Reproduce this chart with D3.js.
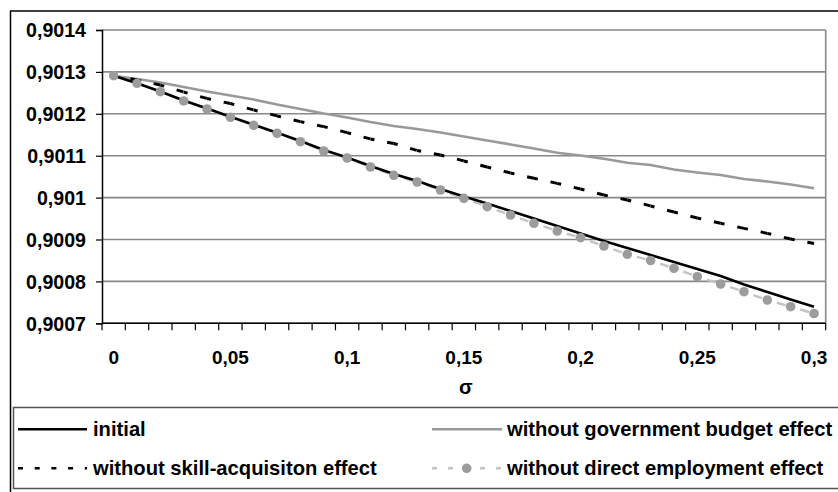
<!DOCTYPE html>
<html>
<head>
<meta charset="utf-8">
<script src="https://cdn.jsdelivr.net/npm/d3@7"></script>
<style>
  html, body { margin: 0; padding: 0; background: #fff; }
  svg { display: block; }
  text { font-family: "Liberation Sans", Arial, sans-serif; font-weight: bold; fill: #000; }
</style>
</head>
<body>
<svg id="chart" width="838" height="492"></svg>
<script>
// ---- data ----
const sigma = [0, 0.01, 0.02, 0.03, 0.04, 0.05, 0.06, 0.07, 0.08, 0.09, 0.10,
               0.11, 0.12, 0.13, 0.14, 0.15, 0.16, 0.17, 0.18, 0.19, 0.20,
               0.21, 0.22, 0.23, 0.24, 0.25, 0.26, 0.27, 0.28, 0.29, 0.30];
const initial = [0.9012909, 0.9012728, 0.9012532, 0.9012317, 0.9012127, 0.9011928, 0.9011738, 0.9011547,
                 0.9011351, 0.9011136, 0.9010957, 0.9010754, 0.9010563, 0.9010396, 0.9010205, 0.9010026,
                 0.9009859, 0.9009680, 0.9009501, 0.9009322, 0.9009143, 0.9008964, 0.9008797, 0.9008630,
                 0.9008463, 0.9008296, 0.9008129, 0.9007926, 0.9007747, 0.9007568, 0.9007396];
const govBudget = [0.9012909, 0.9012831, 0.9012747, 0.9012640, 0.9012532, 0.9012437, 0.9012341, 0.9012222,
                   0.9012115, 0.9012007, 0.9011912, 0.9011804, 0.9011709, 0.9011637, 0.9011554, 0.9011458,
                   0.9011363, 0.9011267, 0.9011172, 0.9011072, 0.9011005, 0.9010926, 0.9010831, 0.9010778,
                   0.9010671, 0.9010599, 0.9010539, 0.9010444, 0.9010384, 0.9010313, 0.9010222];
const skillAcq = [0.9012909, 0.9012807, 0.9012687, 0.9012520, 0.9012365, 0.9012246, 0.9012091, 0.9011948,
                  0.9011812, 0.9011692, 0.9011549, 0.9011399, 0.9011291, 0.9011124, 0.9011017, 0.9010874,
                  0.9010730, 0.9010587, 0.9010461, 0.9010341, 0.9010205, 0.9010062, 0.9009943, 0.9009800,
                  0.9009656, 0.9009513, 0.9009387, 0.9009267, 0.9009148, 0.9009012, 0.9008905];
const directEmp = [0.9012909, 0.9012728, 0.9012527, 0.9012306, 0.9012115, 0.9011917, 0.9011726, 0.9011535,
                   0.9011334, 0.9011112, 0.9010945, 0.9010730, 0.9010532, 0.9010372, 0.9010181, 0.9009983,
                   0.9009783, 0.9009585, 0.9009387, 0.9009203, 0.9009043, 0.9008845, 0.9008647, 0.9008499,
                   0.9008313, 0.9008112, 0.9007938, 0.9007754, 0.9007556, 0.9007396, 0.9007234];
const yTicks = [0.9007, 0.9008, 0.9009, 0.9010, 0.9011, 0.9012, 0.9013, 0.9014];
const xTickLabels = [0, 0.05, 0.10, 0.15, 0.20, 0.25, 0.30];
const seriesNames = ["initial", "without government budget effect",
                     "without skill-acquisiton effect", "without direct employment effect"];
const xTitle = "σ";

// ---- layout ----
const W = 838, H = 492;
const plot = { left: 102, right: 825.7, top: 30, bottom: 323.3 };
const FSY = 19.6, FSX = 19, FSL = 20.2;

const svg = d3.select("#chart");
const loc = d3.formatLocale({ decimal: ",", thousands: ".", grouping: [3], currency: ["", ""] });
const fy = loc.format(".4~f");
const fx = loc.format(".2~f");

// outer frame
svg.append("rect").attr("x", 10.5).attr("y", 11).attr("width", W + 10).attr("height", H + 10)
  .attr("fill", "none").attr("stroke", "#000").attr("stroke-width", 1.5);

const x = d3.scaleBand().domain(sigma).range([plot.left, plot.right]).padding(0);
const cx = d => x(d) + x.bandwidth() / 2;
const y = d3.scaleLinear().domain([0.9007, 0.9014]).range([plot.bottom, plot.top]);

// gridlines
svg.append("g").selectAll("line").data(yTicks).join("line")
  .attr("x1", plot.left).attr("x2", plot.right)
  .attr("y1", d => y(d)).attr("y2", d => y(d))
  .attr("stroke", "#888").attr("stroke-width", 1.6);
// right border of plot
svg.append("line").attr("x1", plot.right).attr("x2", plot.right)
  .attr("y1", plot.top).attr("y2", plot.bottom).attr("stroke", "#888").attr("stroke-width", 1.6);

// y axis
const yAxis = svg.append("g").attr("transform", `translate(${plot.left},0)`)
  .call(d3.axisLeft(y).tickValues(yTicks).tickFormat(fy).tickSize(6).tickPadding(10));
yAxis.select(".domain").attr("stroke", "#000").attr("stroke-width", 1.5);
yAxis.selectAll(".tick line").attr("stroke", "#000").attr("stroke-width", 1.2);
yAxis.selectAll(".tick text").attr("font-size", FSY).attr("font-family", "Liberation Sans")
  .attr("font-weight", "bold").attr("fill", "#000").attr("dy", "0.35em");

// x axis: ticks between categories
const xg = svg.append("g");
xg.append("line").attr("x1", plot.left).attr("x2", plot.right)
  .attr("y1", plot.bottom).attr("y2", plot.bottom).attr("stroke", "#000").attr("stroke-width", 1.5);
xg.selectAll("line.tk").data(sigma.concat([null])).join("line").attr("class", "tk")
  .attr("x1", d => d === null ? plot.right : x(d))
  .attr("x2", d => d === null ? plot.right : x(d))
  .attr("y1", plot.bottom).attr("y2", plot.bottom + 7)
  .attr("stroke", "#000").attr("stroke-width", 1.2);
xg.selectAll("text").data(xTickLabels).join("text")
  .attr("x", d => cx(sigma.find(s => Math.abs(s - d) < 1e-9)))
  .attr("y", 364).attr("text-anchor", "middle").attr("font-size", FSX)
  .text(d => fx(d));
svg.append("text").attr("x", (plot.left + plot.right) / 2 + 2).attr("y", 393.5)
  .attr("text-anchor", "middle").attr("font-size", FSX + 1).text(xTitle);

// lines
const line = d3.line().x((d, i) => cx(sigma[i])).y(d => y(d));
function segments(vals) {
  const s = [];
  for (let i = 0; i < vals.length - 1; i++) s.push([i, vals[i], vals[i + 1]]);
  return s;
}

// gov budget (grey solid)
svg.append("path").datum(govBudget).attr("d", line)
  .attr("fill", "none").attr("stroke", "#999").attr("stroke-width", 2.6);

// skill acquisition (black dashed, pattern per segment)
svg.append("g").selectAll("line").data(segments(skillAcq)).join("line")
  .attr("x1", d => cx(sigma[d[0]])).attr("y1", d => y(d[1]))
  .attr("x2", d => cx(sigma[d[0] + 1])).attr("y2", d => y(d[2]))
  .attr("stroke", "#000").attr("stroke-width", 2.9)
  .attr("stroke-dasharray", "4,13,7,100");

// direct employment (light grey dashed + grey dots)
svg.append("g").selectAll("line").data(segments(directEmp)).join("line")
  .attr("x1", d => cx(sigma[d[0]])).attr("y1", d => y(d[1]))
  .attr("x2", d => cx(sigma[d[0] + 1])).attr("y2", d => y(d[2]))
  .attr("stroke", "#c4c4c4").attr("stroke-width", 2.4)
  .attr("stroke-dasharray", "0,10,9,100");

// initial (black solid)
svg.append("path").datum(initial).attr("d", line)
  .attr("fill", "none").attr("stroke", "#000").attr("stroke-width", 2.6);

svg.append("g").selectAll("circle").data(directEmp).join("circle")
  .attr("cx", (d, i) => cx(sigma[i])).attr("cy", d => y(d)).attr("r", 4.8)
  .attr("fill", "#9c9c9c");

// legend
const lg = svg.append("g");
lg.append("rect").attr("x", 13.5).attr("y", 407.5).attr("width", W).attr("height", 81)
  .attr("fill", "#fff").attr("stroke", "#555").attr("stroke-width", 1.5);
const rows = [429.3, 468.3];
const cols = [{ x1: 18, x2: 87, tx: 93 }, { x1: 432, x2: 502, tx: 507 }];
const items = [
  { name: seriesNames[0], col: 0, row: 0, stroke: "#000", dash: null },
  { name: seriesNames[1], col: 1, row: 0, stroke: "#999", dash: null },
  { name: seriesNames[2], col: 0, row: 1, stroke: "#000", dash: "5,11.7" },
  { name: seriesNames[3], col: 1, row: 1, stroke: "#c4c4c4", dash: "5,11", dot: true }
];
items.forEach(it => {
  const c = cols[it.col], ry = rows[it.row];
  const l = lg.append("line").attr("x1", c.x1).attr("x2", c.x2).attr("y1", ry).attr("y2", ry)
    .attr("stroke", it.stroke).attr("stroke-width", 2.6);
  if (it.dash) l.attr("stroke-dasharray", it.dash);
  if (it.dot) lg.append("circle").attr("cx", (c.x1 + c.x2) / 2 - 0.3).attr("cy", ry).attr("r", 4.8).attr("fill", "#9c9c9c");
  lg.append("text").attr("x", c.tx).attr("y", ry + 7).attr("font-size", FSL).text(it.name);
});
</script>
</body>
</html>
